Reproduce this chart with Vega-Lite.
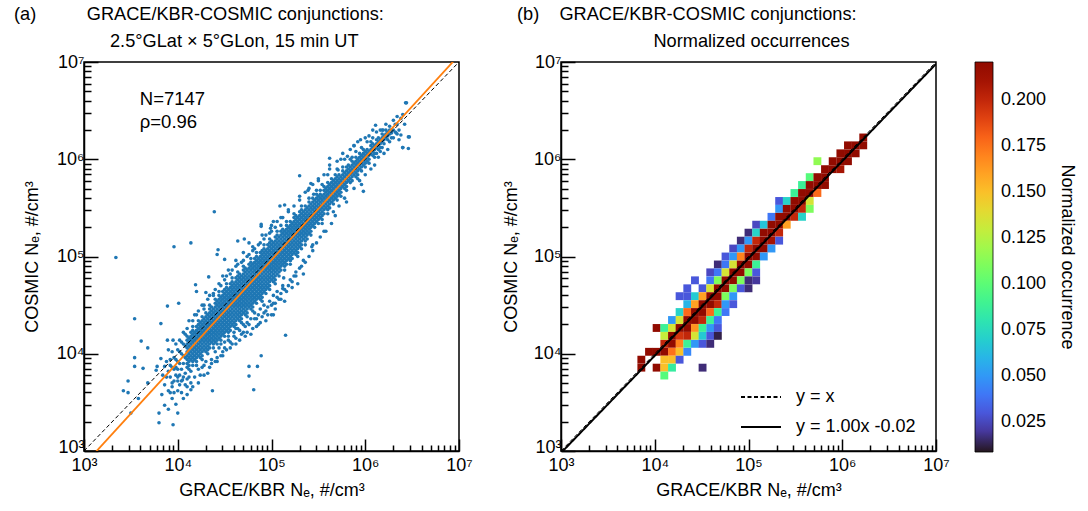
{
"$schema":"https://vega.github.io/schema/vega-lite/v6.json",
"background":"white",
"padding":{"left":13,"top":4,"right":5,"bottom":5},
"spacing":27,
"config":{
"font":"Liberation Sans",
"view":{"stroke":"black","strokeWidth":1.5},
"axis":{"grid":false,"domainColor":"black","domainWidth":1.5,"tickColor":"black","tickWidth":1.5,"labelColor":"black","labelFontSize":18,"titleColor":"black","titleFontSize":18,"titleFontWeight":"normal","labelFlush":false,"labelOverlap":false},
"legend":{"labelColor":"black","titleColor":"black","titleFontWeight":"normal"},
"title":{"fontSize":18.2,"fontWeight":"normal","color":"black"}
},
"datasets":{
"scatter":[
{"x":3.92,"y":3.6},{"x":3.92,"y":3.76},{"x":3.92,"y":3.88},{"x":3.94,"y":3.7},{"x":3.94,"y":3.86},{"x":3.94,"y":4.02},{"x":3.96,"y":3.6},{"x":3.96,"y":3.84},{"x":3.96,"y":3.96},{"x":3.98,"y":3.78},{"x":3.98,"y":3.94},{"x":3.98,"y":4.1},{"x":4,"y":3.72},{"x":4,"y":3.84},{"x":4,"y":3.92},{"x":4,"y":4.04},{"x":4.02,"y":3.78},{"x":4.02,"y":3.9},{"x":4.02,"y":4.02},{"x":4.04,"y":3.72},{"x":4.04,"y":3.84},{"x":4.04,"y":4},{"x":4.04,"y":4.12},{"x":4.06,"y":3.9},{"x":4.06,"y":3.98},{"x":4.06,"y":4.1},{"x":4.08,"y":3.8},{"x":4.08,"y":3.96},{"x":4.08,"y":4.08},{"x":4.08,"y":4.2},
{"x":4.1,"y":3.86},{"x":4.1,"y":3.9},{"x":4.1,"y":3.94},{"x":4.1,"y":3.98},{"x":4.1,"y":4.02},{"x":4.1,"y":4.06},{"x":4.1,"y":4.1},{"x":4.1,"y":4.14},{"x":4.1,"y":4.18},{"x":4.1,"y":3.66},
{"x":4.12,"y":3.84},{"x":4.12,"y":3.88},{"x":4.12,"y":3.92},{"x":4.12,"y":3.96},{"x":4.12,"y":4},{"x":4.12,"y":4.04},{"x":4.12,"y":4.08},{"x":4.12,"y":4.12},{"x":4.12,"y":4.16},{"x":4.12,"y":4.34},
{"x":4.14,"y":3.94},{"x":4.14,"y":3.98},{"x":4.14,"y":4.02},{"x":4.14,"y":4.06},{"x":4.14,"y":4.1},{"x":4.14,"y":4.14},{"x":4.14,"y":4.18},{"x":4.14,"y":4.22},{"x":4.14,"y":3.7},
{"x":4.16,"y":3.88},{"x":4.16,"y":3.92},{"x":4.16,"y":3.96},{"x":4.16,"y":4},{"x":4.16,"y":4.04},{"x":4.16,"y":4.08},{"x":4.16,"y":4.12},{"x":4.16,"y":4.16},{"x":4.16,"y":4.2},{"x":4.16,"y":4.24},{"x":4.16,"y":4.28},
{"x":4.18,"y":3.94},{"x":4.18,"y":3.98},{"x":4.18,"y":4.02},{"x":4.18,"y":4.06},{"x":4.18,"y":4.1},{"x":4.18,"y":4.14},{"x":4.18,"y":4.18},{"x":4.18,"y":4.22},{"x":4.18,"y":3.76},{"x":4.18,"y":4.4},
{"x":4.2,"y":3.88},{"x":4.2,"y":3.92},{"x":4.2,"y":3.96},{"x":4.2,"y":4},{"x":4.2,"y":4.04},{"x":4.2,"y":4.08},{"x":4.2,"y":4.12},{"x":4.2,"y":4.16},{"x":4.2,"y":4.2},{"x":4.2,"y":4.24},{"x":4.2,"y":4.28},
{"x":4.22,"y":3.98},{"x":4.22,"y":4.02},{"x":4.22,"y":4.06},{"x":4.22,"y":4.1},{"x":4.22,"y":4.14},{"x":4.22,"y":4.18},{"x":4.22,"y":4.22},{"x":4.22,"y":4.26},{"x":4.22,"y":4.3},{"x":4.22,"y":4.34},
{"x":4.24,"y":3.96},{"x":4.24,"y":4},{"x":4.24,"y":4.04},{"x":4.24,"y":4.08},{"x":4.24,"y":4.12},{"x":4.24,"y":4.16},{"x":4.24,"y":4.2},{"x":4.24,"y":4.24},{"x":4.24,"y":4.28},{"x":4.24,"y":4.32},{"x":4.24,"y":3.78},
{"x":4.26,"y":3.94},{"x":4.26,"y":3.98},{"x":4.26,"y":4.02},{"x":4.26,"y":4.06},{"x":4.26,"y":4.1},{"x":4.26,"y":4.14},{"x":4.26,"y":4.18},{"x":4.26,"y":4.22},{"x":4.26,"y":4.26},{"x":4.26,"y":4.3},{"x":4.26,"y":4.34},{"x":4.26,"y":4.38},
{"x":4.28,"y":4.04},{"x":4.28,"y":4.08},{"x":4.28,"y":4.12},{"x":4.28,"y":4.16},{"x":4.28,"y":4.2},{"x":4.28,"y":4.24},{"x":4.28,"y":4.28},{"x":4.28,"y":4.32},{"x":4.28,"y":4.36},{"x":4.28,"y":3.88},{"x":4.28,"y":4.5},
{"x":4.3,"y":4.02},{"x":4.3,"y":4.06},{"x":4.3,"y":4.1},{"x":4.3,"y":4.14},{"x":4.3,"y":4.18},{"x":4.3,"y":4.22},{"x":4.3,"y":4.26},{"x":4.3,"y":4.3},{"x":4.3,"y":4.34},{"x":4.3,"y":4.38},{"x":4.3,"y":4.42},
{"x":4.32,"y":4},{"x":4.32,"y":4.04},{"x":4.32,"y":4.08},{"x":4.32,"y":4.12},{"x":4.32,"y":4.16},{"x":4.32,"y":4.2},{"x":4.32,"y":4.24},{"x":4.32,"y":4.28},{"x":4.32,"y":4.32},{"x":4.32,"y":4.36},{"x":4.32,"y":4.4},
{"x":4.34,"y":4.06},{"x":4.34,"y":4.1},{"x":4.34,"y":4.14},{"x":4.34,"y":4.18},{"x":4.34,"y":4.22},{"x":4.34,"y":4.26},{"x":4.34,"y":4.3},{"x":4.34,"y":4.34},{"x":4.34,"y":4.38},{"x":4.34,"y":4.42},{"x":4.34,"y":4.46},{"x":4.34,"y":4.5},
{"x":4.36,"y":4.12},{"x":4.36,"y":4.16},{"x":4.36,"y":4.2},{"x":4.36,"y":4.24},{"x":4.36,"y":4.28},{"x":4.36,"y":4.32},{"x":4.36,"y":4.36},{"x":4.36,"y":4.4},{"x":4.36,"y":4.44},{"x":4.36,"y":4.48},{"x":4.36,"y":3.94},
{"x":4.38,"y":4.06},{"x":4.38,"y":4.1},{"x":4.38,"y":4.14},{"x":4.38,"y":4.18},{"x":4.38,"y":4.22},{"x":4.38,"y":4.26},{"x":4.38,"y":4.3},{"x":4.38,"y":4.34},{"x":4.38,"y":4.38},{"x":4.38,"y":4.42},{"x":4.38,"y":4.46},{"x":4.38,"y":4.62},
{"x":4.4,"y":4.12},{"x":4.4,"y":4.16},{"x":4.4,"y":4.2},{"x":4.4,"y":4.24},{"x":4.4,"y":4.28},{"x":4.4,"y":4.32},{"x":4.4,"y":4.36},{"x":4.4,"y":4.4},{"x":4.4,"y":4.44},{"x":4.4,"y":4.48},{"x":4.4,"y":4.52},{"x":4.4,"y":4.56},
{"x":4.42,"y":4.1},{"x":4.42,"y":4.14},{"x":4.42,"y":4.18},{"x":4.42,"y":4.22},{"x":4.42,"y":4.26},{"x":4.42,"y":4.3},{"x":4.42,"y":4.34},{"x":4.42,"y":4.38},{"x":4.42,"y":4.42},{"x":4.42,"y":4.46},{"x":4.42,"y":4.5},{"x":4.42,"y":4.54},{"x":4.42,"y":3.92},
{"x":4.44,"y":4.16},{"x":4.44,"y":4.2},{"x":4.44,"y":4.24},{"x":4.44,"y":4.28},{"x":4.44,"y":4.32},{"x":4.44,"y":4.36},{"x":4.44,"y":4.4},{"x":4.44,"y":4.44},{"x":4.44,"y":4.48},{"x":4.44,"y":4.52},{"x":4.44,"y":4.56},{"x":4.44,"y":4.6},{"x":4.44,"y":4.64},
{"x":4.46,"y":4.1},{"x":4.46,"y":4.14},{"x":4.46,"y":4.18},{"x":4.46,"y":4.22},{"x":4.46,"y":4.26},{"x":4.46,"y":4.3},{"x":4.46,"y":4.34},{"x":4.46,"y":4.38},{"x":4.46,"y":4.42},{"x":4.46,"y":4.46},{"x":4.46,"y":4.5},{"x":4.46,"y":4.54},{"x":4.46,"y":4.58},
{"x":4.48,"y":4.2},{"x":4.48,"y":4.24},{"x":4.48,"y":4.28},{"x":4.48,"y":4.32},{"x":4.48,"y":4.36},{"x":4.48,"y":4.4},{"x":4.48,"y":4.44},{"x":4.48,"y":4.48},{"x":4.48,"y":4.52},{"x":4.48,"y":4.56},{"x":4.48,"y":4.6},{"x":4.48,"y":4.64},{"x":4.48,"y":4.02},{"x":4.48,"y":4.8},
{"x":4.5,"y":4.18},{"x":4.5,"y":4.22},{"x":4.5,"y":4.26},{"x":4.5,"y":4.3},{"x":4.5,"y":4.34},{"x":4.5,"y":4.38},{"x":4.5,"y":4.42},{"x":4.5,"y":4.46},{"x":4.5,"y":4.5},{"x":4.5,"y":4.54},{"x":4.5,"y":4.58},{"x":4.5,"y":4.62},{"x":4.5,"y":4.66},
{"x":4.52,"y":4.24},{"x":4.52,"y":4.28},{"x":4.52,"y":4.32},{"x":4.52,"y":4.36},{"x":4.52,"y":4.4},{"x":4.52,"y":4.44},{"x":4.52,"y":4.48},{"x":4.52,"y":4.52},{"x":4.52,"y":4.56},{"x":4.52,"y":4.6},{"x":4.52,"y":4.64},{"x":4.52,"y":4.68},{"x":4.52,"y":4.72},
{"x":4.54,"y":4.18},{"x":4.54,"y":4.22},{"x":4.54,"y":4.26},{"x":4.54,"y":4.3},{"x":4.54,"y":4.34},{"x":4.54,"y":4.38},{"x":4.54,"y":4.42},{"x":4.54,"y":4.46},{"x":4.54,"y":4.5},{"x":4.54,"y":4.54},{"x":4.54,"y":4.58},{"x":4.54,"y":4.62},{"x":4.54,"y":4.66},{"x":4.54,"y":4.86},
{"x":4.56,"y":4.24},{"x":4.56,"y":4.28},{"x":4.56,"y":4.32},{"x":4.56,"y":4.36},{"x":4.56,"y":4.4},{"x":4.56,"y":4.44},{"x":4.56,"y":4.48},{"x":4.56,"y":4.52},{"x":4.56,"y":4.56},{"x":4.56,"y":4.6},{"x":4.56,"y":4.64},{"x":4.56,"y":4.68},{"x":4.56,"y":4.72},{"x":4.56,"y":4.06},
{"x":4.58,"y":4.3},{"x":4.58,"y":4.34},{"x":4.58,"y":4.38},{"x":4.58,"y":4.42},{"x":4.58,"y":4.46},{"x":4.58,"y":4.5},{"x":4.58,"y":4.54},{"x":4.58,"y":4.58},{"x":4.58,"y":4.62},{"x":4.58,"y":4.66},{"x":4.58,"y":4.7},{"x":4.58,"y":4.74},{"x":4.58,"y":4.78},
{"x":4.6,"y":4.28},{"x":4.6,"y":4.32},{"x":4.6,"y":4.36},{"x":4.6,"y":4.4},{"x":4.6,"y":4.44},{"x":4.6,"y":4.48},{"x":4.6,"y":4.52},{"x":4.6,"y":4.56},{"x":4.6,"y":4.6},{"x":4.6,"y":4.64},{"x":4.6,"y":4.68},{"x":4.6,"y":4.72},
{"x":4.62,"y":4.26},{"x":4.62,"y":4.3},{"x":4.62,"y":4.34},{"x":4.62,"y":4.38},{"x":4.62,"y":4.42},{"x":4.62,"y":4.46},{"x":4.62,"y":4.5},{"x":4.62,"y":4.54},{"x":4.62,"y":4.58},{"x":4.62,"y":4.62},{"x":4.62,"y":4.66},{"x":4.62,"y":4.7},{"x":4.62,"y":4.74},{"x":4.62,"y":4.78},{"x":4.62,"y":4.96},
{"x":4.64,"y":4.36},{"x":4.64,"y":4.4},{"x":4.64,"y":4.44},{"x":4.64,"y":4.48},{"x":4.64,"y":4.52},{"x":4.64,"y":4.56},{"x":4.64,"y":4.6},{"x":4.64,"y":4.64},{"x":4.64,"y":4.68},{"x":4.64,"y":4.72},{"x":4.64,"y":4.76},{"x":4.64,"y":4.8},{"x":4.64,"y":4.84},
{"x":4.66,"y":4.34},{"x":4.66,"y":4.38},{"x":4.66,"y":4.42},{"x":4.66,"y":4.46},{"x":4.66,"y":4.5},{"x":4.66,"y":4.54},{"x":4.66,"y":4.58},{"x":4.66,"y":4.62},{"x":4.66,"y":4.66},{"x":4.66,"y":4.7},{"x":4.66,"y":4.74},{"x":4.66,"y":4.78},{"x":4.66,"y":4.82},{"x":4.66,"y":4.14},
{"x":4.68,"y":4.32},{"x":4.68,"y":4.36},{"x":4.68,"y":4.4},{"x":4.68,"y":4.44},{"x":4.68,"y":4.48},{"x":4.68,"y":4.52},{"x":4.68,"y":4.56},{"x":4.68,"y":4.6},{"x":4.68,"y":4.64},{"x":4.68,"y":4.68},{"x":4.68,"y":4.72},{"x":4.68,"y":4.76},{"x":4.68,"y":4.8},
{"x":4.7,"y":4.42},{"x":4.7,"y":4.46},{"x":4.7,"y":4.5},{"x":4.7,"y":4.54},{"x":4.7,"y":4.58},{"x":4.7,"y":4.62},{"x":4.7,"y":4.66},{"x":4.7,"y":4.7},{"x":4.7,"y":4.74},{"x":4.7,"y":4.78},{"x":4.7,"y":4.82},{"x":4.7,"y":4.86},{"x":4.7,"y":4.9},{"x":4.7,"y":5.04},
{"x":4.72,"y":4.4},{"x":4.72,"y":4.44},{"x":4.72,"y":4.48},{"x":4.72,"y":4.52},{"x":4.72,"y":4.56},{"x":4.72,"y":4.6},{"x":4.72,"y":4.64},{"x":4.72,"y":4.68},{"x":4.72,"y":4.72},{"x":4.72,"y":4.76},{"x":4.72,"y":4.8},{"x":4.72,"y":4.84},{"x":4.72,"y":4.88},
{"x":4.74,"y":4.38},{"x":4.74,"y":4.42},{"x":4.74,"y":4.46},{"x":4.74,"y":4.5},{"x":4.74,"y":4.54},{"x":4.74,"y":4.58},{"x":4.74,"y":4.62},{"x":4.74,"y":4.66},{"x":4.74,"y":4.7},{"x":4.74,"y":4.74},{"x":4.74,"y":4.78},{"x":4.74,"y":4.82},{"x":4.74,"y":4.86},{"x":4.74,"y":4.22},
{"x":4.76,"y":4.48},{"x":4.76,"y":4.52},{"x":4.76,"y":4.56},{"x":4.76,"y":4.6},{"x":4.76,"y":4.64},{"x":4.76,"y":4.68},{"x":4.76,"y":4.72},{"x":4.76,"y":4.76},{"x":4.76,"y":4.8},{"x":4.76,"y":4.84},{"x":4.76,"y":4.88},{"x":4.76,"y":4.92},
{"x":4.78,"y":4.46},{"x":4.78,"y":4.5},{"x":4.78,"y":4.54},{"x":4.78,"y":4.58},{"x":4.78,"y":4.62},{"x":4.78,"y":4.66},{"x":4.78,"y":4.7},{"x":4.78,"y":4.74},{"x":4.78,"y":4.78},{"x":4.78,"y":4.82},{"x":4.78,"y":4.86},{"x":4.78,"y":4.9},{"x":4.78,"y":4.94},{"x":4.78,"y":4.98},
{"x":4.8,"y":4.44},{"x":4.8,"y":4.48},{"x":4.8,"y":4.52},{"x":4.8,"y":4.56},{"x":4.8,"y":4.6},{"x":4.8,"y":4.64},{"x":4.8,"y":4.68},{"x":4.8,"y":4.72},{"x":4.8,"y":4.76},{"x":4.8,"y":4.8},{"x":4.8,"y":4.84},{"x":4.8,"y":4.88},{"x":4.8,"y":4.92},{"x":4.8,"y":5.1},
{"x":4.82,"y":4.54},{"x":4.82,"y":4.58},{"x":4.82,"y":4.62},{"x":4.82,"y":4.66},{"x":4.82,"y":4.7},{"x":4.82,"y":4.74},{"x":4.82,"y":4.78},{"x":4.82,"y":4.82},{"x":4.82,"y":4.86},{"x":4.82,"y":4.9},{"x":4.82,"y":4.94},{"x":4.82,"y":4.98},
{"x":4.84,"y":4.52},{"x":4.84,"y":4.56},{"x":4.84,"y":4.6},{"x":4.84,"y":4.64},{"x":4.84,"y":4.68},{"x":4.84,"y":4.72},{"x":4.84,"y":4.76},{"x":4.84,"y":4.8},{"x":4.84,"y":4.84},{"x":4.84,"y":4.88},{"x":4.84,"y":4.92},{"x":4.84,"y":4.96},{"x":4.84,"y":5},{"x":4.84,"y":5.04},{"x":4.84,"y":4.36},
{"x":4.86,"y":4.58},{"x":4.86,"y":4.62},{"x":4.86,"y":4.66},{"x":4.86,"y":4.7},{"x":4.86,"y":4.74},{"x":4.86,"y":4.78},{"x":4.86,"y":4.82},{"x":4.86,"y":4.86},{"x":4.86,"y":4.9},{"x":4.86,"y":4.94},{"x":4.86,"y":4.98},
{"x":4.88,"y":4.56},{"x":4.88,"y":4.6},{"x":4.88,"y":4.64},{"x":4.88,"y":4.68},{"x":4.88,"y":4.72},{"x":4.88,"y":4.76},{"x":4.88,"y":4.8},{"x":4.88,"y":4.84},{"x":4.88,"y":4.88},{"x":4.88,"y":4.92},{"x":4.88,"y":4.96},{"x":4.88,"y":5},{"x":4.88,"y":5.04},
{"x":4.9,"y":4.54},{"x":4.9,"y":4.58},{"x":4.9,"y":4.62},{"x":4.9,"y":4.66},{"x":4.9,"y":4.7},{"x":4.9,"y":4.74},{"x":4.9,"y":4.78},{"x":4.9,"y":4.82},{"x":4.9,"y":4.86},{"x":4.9,"y":4.9},{"x":4.9,"y":4.94},{"x":4.9,"y":4.98},{"x":4.9,"y":5.02},{"x":4.9,"y":5.06},{"x":4.9,"y":5.22},
{"x":4.92,"y":4.64},{"x":4.92,"y":4.68},{"x":4.92,"y":4.72},{"x":4.92,"y":4.76},{"x":4.92,"y":4.8},{"x":4.92,"y":4.84},{"x":4.92,"y":4.88},{"x":4.92,"y":4.92},{"x":4.92,"y":4.96},{"x":4.92,"y":5},{"x":4.92,"y":5.04},{"x":4.92,"y":5.08},{"x":4.92,"y":5.12},
{"x":4.94,"y":4.62},{"x":4.94,"y":4.66},{"x":4.94,"y":4.7},{"x":4.94,"y":4.74},{"x":4.94,"y":4.78},{"x":4.94,"y":4.82},{"x":4.94,"y":4.86},{"x":4.94,"y":4.9},{"x":4.94,"y":4.94},{"x":4.94,"y":4.98},{"x":4.94,"y":5.02},{"x":4.94,"y":5.06},{"x":4.94,"y":4.44},
{"x":4.96,"y":4.68},{"x":4.96,"y":4.72},{"x":4.96,"y":4.76},{"x":4.96,"y":4.8},{"x":4.96,"y":4.84},{"x":4.96,"y":4.88},{"x":4.96,"y":4.92},{"x":4.96,"y":4.96},{"x":4.96,"y":5},{"x":4.96,"y":5.04},{"x":4.96,"y":5.08},{"x":4.96,"y":5.12},
{"x":4.98,"y":4.66},{"x":4.98,"y":4.7},{"x":4.98,"y":4.74},{"x":4.98,"y":4.78},{"x":4.98,"y":4.82},{"x":4.98,"y":4.86},{"x":4.98,"y":4.9},{"x":4.98,"y":4.94},{"x":4.98,"y":4.98},{"x":4.98,"y":5.02},{"x":4.98,"y":5.06},{"x":4.98,"y":5.1},{"x":4.98,"y":5.14},{"x":4.98,"y":5.18},
{"x":5,"y":4.76},{"x":5,"y":4.8},{"x":5,"y":4.84},{"x":5,"y":4.88},{"x":5,"y":4.92},{"x":5,"y":4.96},{"x":5,"y":5},{"x":5,"y":5.04},{"x":5,"y":5.08},{"x":5,"y":5.12},{"x":5,"y":5.16},{"x":5,"y":4.5},{"x":5,"y":5.32},
{"x":5.02,"y":4.74},{"x":5.02,"y":4.78},{"x":5.02,"y":4.82},{"x":5.02,"y":4.86},{"x":5.02,"y":4.9},{"x":5.02,"y":4.94},{"x":5.02,"y":4.98},{"x":5.02,"y":5.02},{"x":5.02,"y":5.06},{"x":5.02,"y":5.1},{"x":5.02,"y":5.14},
{"x":5.04,"y":4.72},{"x":5.04,"y":4.76},{"x":5.04,"y":4.8},{"x":5.04,"y":4.84},{"x":5.04,"y":4.88},{"x":5.04,"y":4.92},{"x":5.04,"y":4.96},{"x":5.04,"y":5},{"x":5.04,"y":5.04},{"x":5.04,"y":5.08},{"x":5.04,"y":5.12},{"x":5.04,"y":5.16},{"x":5.04,"y":5.2},
{"x":5.06,"y":4.82},{"x":5.06,"y":4.86},{"x":5.06,"y":4.9},{"x":5.06,"y":4.94},{"x":5.06,"y":4.98},{"x":5.06,"y":5.02},{"x":5.06,"y":5.06},{"x":5.06,"y":5.1},{"x":5.06,"y":5.14},{"x":5.06,"y":5.18},{"x":5.06,"y":5.22},{"x":5.06,"y":5.26},{"x":5.06,"y":4.58},
{"x":5.08,"y":4.8},{"x":5.08,"y":4.84},{"x":5.08,"y":4.88},{"x":5.08,"y":4.92},{"x":5.08,"y":4.96},{"x":5.08,"y":5},{"x":5.08,"y":5.04},{"x":5.08,"y":5.08},{"x":5.08,"y":5.12},{"x":5.08,"y":5.16},{"x":5.08,"y":5.2},
{"x":5.1,"y":4.86},{"x":5.1,"y":4.9},{"x":5.1,"y":4.94},{"x":5.1,"y":4.98},{"x":5.1,"y":5.02},{"x":5.1,"y":5.06},{"x":5.1,"y":5.1},{"x":5.1,"y":5.14},{"x":5.1,"y":5.18},{"x":5.1,"y":5.22},{"x":5.1,"y":5.26},{"x":5.1,"y":5.4},
{"x":5.12,"y":4.92},{"x":5.12,"y":4.96},{"x":5.12,"y":5},{"x":5.12,"y":5.04},{"x":5.12,"y":5.08},{"x":5.12,"y":5.12},{"x":5.12,"y":5.16},{"x":5.12,"y":5.2},{"x":5.12,"y":5.24},{"x":5.12,"y":5.28},
{"x":5.14,"y":4.86},{"x":5.14,"y":4.9},{"x":5.14,"y":4.94},{"x":5.14,"y":4.98},{"x":5.14,"y":5.02},{"x":5.14,"y":5.06},{"x":5.14,"y":5.1},{"x":5.14,"y":5.14},{"x":5.14,"y":5.18},{"x":5.14,"y":5.22},{"x":5.14,"y":5.26},{"x":5.14,"y":4.66},
{"x":5.16,"y":4.92},{"x":5.16,"y":4.96},{"x":5.16,"y":5},{"x":5.16,"y":5.04},{"x":5.16,"y":5.08},{"x":5.16,"y":5.12},{"x":5.16,"y":5.16},{"x":5.16,"y":5.2},{"x":5.16,"y":5.24},{"x":5.16,"y":5.28},{"x":5.16,"y":5.32},{"x":5.16,"y":5.36},
{"x":5.18,"y":4.98},{"x":5.18,"y":5.02},{"x":5.18,"y":5.06},{"x":5.18,"y":5.1},{"x":5.18,"y":5.14},{"x":5.18,"y":5.18},{"x":5.18,"y":5.22},{"x":5.18,"y":5.26},{"x":5.18,"y":5.3},{"x":5.18,"y":5.46},
{"x":5.2,"y":4.92},{"x":5.2,"y":4.96},{"x":5.2,"y":5},{"x":5.2,"y":5.04},{"x":5.2,"y":5.08},{"x":5.2,"y":5.12},{"x":5.2,"y":5.16},{"x":5.2,"y":5.2},{"x":5.2,"y":5.24},{"x":5.2,"y":5.28},{"x":5.2,"y":5.32},{"x":5.2,"y":5.36},
{"x":5.22,"y":4.98},{"x":5.22,"y":5.02},{"x":5.22,"y":5.06},{"x":5.22,"y":5.1},{"x":5.22,"y":5.14},{"x":5.22,"y":5.18},{"x":5.22,"y":5.22},{"x":5.22,"y":5.26},{"x":5.22,"y":5.3},{"x":5.22,"y":5.34},
{"x":5.24,"y":5.04},{"x":5.24,"y":5.08},{"x":5.24,"y":5.12},{"x":5.24,"y":5.16},{"x":5.24,"y":5.2},{"x":5.24,"y":5.24},{"x":5.24,"y":5.28},{"x":5.24,"y":5.32},{"x":5.24,"y":5.36},{"x":5.24,"y":5.4},{"x":5.24,"y":5.44},{"x":5.24,"y":4.8},
{"x":5.26,"y":5.02},{"x":5.26,"y":5.06},{"x":5.26,"y":5.1},{"x":5.26,"y":5.14},{"x":5.26,"y":5.18},{"x":5.26,"y":5.22},{"x":5.26,"y":5.26},{"x":5.26,"y":5.3},{"x":5.26,"y":5.34},{"x":5.26,"y":5.38},{"x":5.26,"y":5.42},
{"x":5.28,"y":5},{"x":5.28,"y":5.04},{"x":5.28,"y":5.08},{"x":5.28,"y":5.12},{"x":5.28,"y":5.16},{"x":5.28,"y":5.2},{"x":5.28,"y":5.24},{"x":5.28,"y":5.28},{"x":5.28,"y":5.32},{"x":5.28,"y":5.36},{"x":5.28,"y":5.4},
{"x":5.3,"y":5.1},{"x":5.3,"y":5.14},{"x":5.3,"y":5.18},{"x":5.3,"y":5.22},{"x":5.3,"y":5.26},{"x":5.3,"y":5.3},{"x":5.3,"y":5.34},{"x":5.3,"y":5.38},{"x":5.3,"y":5.42},{"x":5.3,"y":5.46},{"x":5.3,"y":5.62},
{"x":5.32,"y":5.08},{"x":5.32,"y":5.12},{"x":5.32,"y":5.16},{"x":5.32,"y":5.2},{"x":5.32,"y":5.24},{"x":5.32,"y":5.28},{"x":5.32,"y":5.32},{"x":5.32,"y":5.36},{"x":5.32,"y":5.4},{"x":5.32,"y":5.44},{"x":5.32,"y":5.48},{"x":5.32,"y":5.52},
{"x":5.34,"y":5.18},{"x":5.34,"y":5.22},{"x":5.34,"y":5.26},{"x":5.34,"y":5.3},{"x":5.34,"y":5.34},{"x":5.34,"y":5.38},{"x":5.34,"y":5.42},{"x":5.34,"y":5.46},{"x":5.34,"y":4.96},
{"x":5.36,"y":5.12},{"x":5.36,"y":5.16},{"x":5.36,"y":5.2},{"x":5.36,"y":5.24},{"x":5.36,"y":5.28},{"x":5.36,"y":5.32},{"x":5.36,"y":5.36},{"x":5.36,"y":5.4},{"x":5.36,"y":5.44},{"x":5.36,"y":5.48},{"x":5.36,"y":5.52},
{"x":5.38,"y":5.18},{"x":5.38,"y":5.22},{"x":5.38,"y":5.26},{"x":5.38,"y":5.3},{"x":5.38,"y":5.34},{"x":5.38,"y":5.38},{"x":5.38,"y":5.42},{"x":5.38,"y":5.46},{"x":5.38,"y":5.5},
{"x":5.4,"y":5.24},{"x":5.4,"y":5.28},{"x":5.4,"y":5.32},{"x":5.4,"y":5.36},{"x":5.4,"y":5.4},{"x":5.4,"y":5.44},{"x":5.4,"y":5.48},{"x":5.4,"y":5.52},{"x":5.4,"y":5.56},{"x":5.4,"y":5.6},{"x":5.4,"y":5.7},
{"x":5.42,"y":5.22},{"x":5.42,"y":5.26},{"x":5.42,"y":5.3},{"x":5.42,"y":5.34},{"x":5.42,"y":5.38},{"x":5.42,"y":5.42},{"x":5.42,"y":5.46},{"x":5.42,"y":5.5},{"x":5.42,"y":5.54},
{"x":5.44,"y":5.32},{"x":5.44,"y":5.36},{"x":5.44,"y":5.4},{"x":5.44,"y":5.44},{"x":5.44,"y":5.48},{"x":5.44,"y":5.52},{"x":5.44,"y":5.56},{"x":5.44,"y":5.6},{"x":5.44,"y":5.12},
{"x":5.46,"y":5.3},{"x":5.46,"y":5.34},{"x":5.46,"y":5.38},{"x":5.46,"y":5.42},{"x":5.46,"y":5.46},{"x":5.46,"y":5.5},{"x":5.46,"y":5.54},{"x":5.46,"y":5.58},
{"x":5.48,"y":5.36},{"x":5.48,"y":5.4},{"x":5.48,"y":5.44},{"x":5.48,"y":5.48},{"x":5.48,"y":5.52},{"x":5.48,"y":5.56},{"x":5.48,"y":5.6},{"x":5.48,"y":5.64},{"x":5.48,"y":5.68},
{"x":5.5,"y":5.34},{"x":5.5,"y":5.38},{"x":5.5,"y":5.42},{"x":5.5,"y":5.46},{"x":5.5,"y":5.5},{"x":5.5,"y":5.54},{"x":5.5,"y":5.58},{"x":5.5,"y":5.62},{"x":5.5,"y":5.8},
{"x":5.52,"y":5.4},{"x":5.52,"y":5.44},{"x":5.52,"y":5.48},{"x":5.52,"y":5.52},{"x":5.52,"y":5.56},{"x":5.52,"y":5.6},{"x":5.52,"y":5.64},{"x":5.52,"y":5.68},
{"x":5.54,"y":5.34},{"x":5.54,"y":5.38},{"x":5.54,"y":5.42},{"x":5.54,"y":5.46},{"x":5.54,"y":5.5},{"x":5.54,"y":5.54},{"x":5.54,"y":5.58},{"x":5.54,"y":5.62},
{"x":5.56,"y":5.44},{"x":5.56,"y":5.48},{"x":5.56,"y":5.52},{"x":5.56,"y":5.56},{"x":5.56,"y":5.6},{"x":5.56,"y":5.64},{"x":5.56,"y":5.68},{"x":5.56,"y":5.72},{"x":5.56,"y":5.26},
{"x":5.58,"y":5.5},{"x":5.58,"y":5.54},{"x":5.58,"y":5.58},{"x":5.58,"y":5.62},{"x":5.58,"y":5.66},{"x":5.58,"y":5.7},
{"x":5.6,"y":5.44},{"x":5.6,"y":5.48},{"x":5.6,"y":5.52},{"x":5.6,"y":5.56},{"x":5.6,"y":5.6},{"x":5.6,"y":5.64},{"x":5.6,"y":5.68},{"x":5.6,"y":5.72},{"x":5.6,"y":5.76},
{"x":5.62,"y":5.5},{"x":5.62,"y":5.54},{"x":5.62,"y":5.58},{"x":5.62,"y":5.62},{"x":5.62,"y":5.66},{"x":5.62,"y":5.7},{"x":5.62,"y":5.74},{"x":5.62,"y":5.9},
{"x":5.64,"y":5.56},{"x":5.64,"y":5.6},{"x":5.64,"y":5.64},{"x":5.64,"y":5.68},{"x":5.64,"y":5.72},{"x":5.64,"y":5.76},{"x":5.64,"y":5.8},
{"x":5.66,"y":5.54},{"x":5.66,"y":5.58},{"x":5.66,"y":5.62},{"x":5.66,"y":5.66},{"x":5.66,"y":5.7},{"x":5.66,"y":5.74},{"x":5.66,"y":5.78},
{"x":5.68,"y":5.6},{"x":5.68,"y":5.64},{"x":5.68,"y":5.68},{"x":5.68,"y":5.72},{"x":5.68,"y":5.76},{"x":5.68,"y":5.8},{"x":5.68,"y":5.84},{"x":5.68,"y":5.42},
{"x":5.7,"y":5.58},{"x":5.7,"y":5.62},{"x":5.7,"y":5.66},{"x":5.7,"y":5.7},{"x":5.7,"y":5.74},{"x":5.7,"y":5.78},{"x":5.7,"y":5.82},
{"x":5.72,"y":5.64},{"x":5.72,"y":5.68},{"x":5.72,"y":5.72},{"x":5.72,"y":5.76},{"x":5.72,"y":5.8},{"x":5.72,"y":5.84},
{"x":5.74,"y":5.62},{"x":5.74,"y":5.66},{"x":5.74,"y":5.7},{"x":5.74,"y":5.74},{"x":5.74,"y":5.78},{"x":5.74,"y":5.82},{"x":5.74,"y":6},
{"x":5.76,"y":5.72},{"x":5.76,"y":5.76},{"x":5.76,"y":5.8},{"x":5.76,"y":5.84},{"x":5.76,"y":5.88},{"x":5.76,"y":5.92},
{"x":5.78,"y":5.7},{"x":5.78,"y":5.74},{"x":5.78,"y":5.78},{"x":5.78,"y":5.82},{"x":5.78,"y":5.86},
{"x":5.8,"y":5.68},{"x":5.8,"y":5.72},{"x":5.8,"y":5.76},{"x":5.8,"y":5.8},{"x":5.8,"y":5.84},{"x":5.8,"y":5.88},{"x":5.8,"y":5.92},{"x":5.8,"y":5.56},
{"x":5.82,"y":5.78},{"x":5.82,"y":5.82},{"x":5.82,"y":5.86},{"x":5.82,"y":5.9},{"x":5.82,"y":5.94},
{"x":5.84,"y":5.76},{"x":5.84,"y":5.8},{"x":5.84,"y":5.84},{"x":5.84,"y":5.88},{"x":5.84,"y":5.92},
{"x":5.86,"y":5.78},{"x":5.86,"y":5.82},{"x":5.86,"y":5.86},{"x":5.86,"y":5.9},{"x":5.86,"y":5.94},{"x":5.86,"y":5.98},{"x":5.86,"y":6.02},
{"x":5.88,"y":5.84},{"x":5.88,"y":5.88},{"x":5.88,"y":5.92},{"x":5.88,"y":5.96},{"x":5.88,"y":6.14},
{"x":5.9,"y":5.82},{"x":5.9,"y":5.86},{"x":5.9,"y":5.9},{"x":5.9,"y":5.94},{"x":5.9,"y":5.98},{"x":5.9,"y":6.02},
{"x":5.92,"y":5.8},{"x":5.92,"y":5.84},{"x":5.92,"y":5.88},{"x":5.92,"y":5.92},{"x":5.92,"y":5.96},{"x":5.92,"y":6},
{"x":5.94,"y":5.9},{"x":5.94,"y":5.94},{"x":5.94,"y":5.98},{"x":5.94,"y":6.02},{"x":5.94,"y":6.06},
{"x":5.96,"y":5.88},{"x":5.96,"y":5.92},{"x":5.96,"y":5.96},{"x":5.96,"y":6},{"x":5.96,"y":6.04},{"x":5.96,"y":5.74},
{"x":5.98,"y":5.94},{"x":5.98,"y":5.98},{"x":5.98,"y":6.02},{"x":5.98,"y":6.06},{"x":5.98,"y":6.1},
{"x":6,"y":5.92},{"x":6,"y":5.96},{"x":6,"y":6},{"x":6,"y":6.04},{"x":6,"y":6.08},
{"x":6.02,"y":5.98},{"x":6.02,"y":6.02},{"x":6.02,"y":6.06},{"x":6.02,"y":6.1},
{"x":6.04,"y":5.96},{"x":6.04,"y":6},{"x":6.04,"y":6.04},{"x":6.04,"y":6.08},{"x":6.04,"y":6.24},
{"x":6.06,"y":6.06},{"x":6.06,"y":6.1},{"x":6.06,"y":6.14},{"x":6.06,"y":6.18},
{"x":6.08,"y":6.04},{"x":6.08,"y":6.08},{"x":6.08,"y":6.12},{"x":6.08,"y":6.16},
{"x":6.1,"y":6.02},{"x":6.1,"y":6.06},{"x":6.1,"y":6.1},{"x":6.1,"y":6.14},
{"x":6.12,"y":6.12},{"x":6.12,"y":6.16},{"x":6.12,"y":6.2},
{"x":6.14,"y":6.1},{"x":6.14,"y":6.14},{"x":6.14,"y":6.18},{"x":6.14,"y":6.22},
{"x":6.16,"y":6.08},{"x":6.16,"y":6.12},{"x":6.16,"y":6.16},{"x":6.16,"y":6.2},
{"x":6.18,"y":6.18},{"x":6.18,"y":6.22},{"x":6.18,"y":6.26},{"x":6.18,"y":6.3},
{"x":6.2,"y":6.16},{"x":6.2,"y":6.2},{"x":6.2,"y":6.24},
{"x":6.22,"y":6.22},{"x":6.22,"y":6.26},{"x":6.22,"y":6.3},
{"x":6.24,"y":6.2},{"x":6.24,"y":6.24},{"x":6.24,"y":6.28},
{"x":6.26,"y":6.26},{"x":6.26,"y":6.34},{"x":6.28,"y":6.22},{"x":6.28,"y":6.3},{"x":6.3,"y":6.3},{"x":6.3,"y":6.4},{"x":6.32,"y":6.28},{"x":6.34,"y":6.36},{"x":6.34,"y":6.44},{"x":6.36,"y":6.3},{"x":6.38,"y":6.42},{"x":6.38,"y":6.25},{"x":6.4,"y":6.12},{"x":6.4,"y":6.46},{"x":6.42,"y":6.36},{"x":6.44,"y":6.58},{"x":6.46,"y":6.11},{"x":6.46,"y":6.23},
{"x":3.34,"y":4.99},{"x":3.54,"y":4.36},{"x":3.42,"y":3.62},{"x":3.47,"y":3.6},{"x":3.47,"y":3.72},{"x":3.54,"y":3.96},{"x":3.54,"y":3.87},{"x":3.61,"y":4.13},{"x":3.63,"y":3.85},{"x":3.68,"y":4.06},{"x":3.68,"y":3.7},{"x":3.58,"y":3.54},{"x":3.5,"y":3.39},{"x":3.82,"y":4.31},{"x":3.89,"y":4.49},{"x":4.01,"y":4.52},{"x":3.8,"y":3.39},{"x":3.8,"y":3.29},{"x":3.86,"y":3.47},{"x":3.9,"y":3.43},{"x":3.95,"y":3.27},{"x":3.98,"y":3.48},{"x":4,"y":3.39},{"x":3.83,"y":3.58},{"x":3.94,"y":3.66},{"x":3.82,"y":3.95},{"x":3.77,"y":3.83},{"x":3.78,"y":3.87},{"x":3.86,"y":3.87},{"x":3.9,"y":3.82},{"x":4,"y":3.76},{"x":4.05,"y":3.73},{"x":4.14,"y":3.63},{"x":4.37,"y":3.62},{"x":4.76,"y":3.87},{"x":4.76,"y":3.77},{"x":4.85,"y":3.87},{"x":4.81,"y":3.63},{"x":4.89,"y":3.98},{"x":5.15,"y":4.19},{"x":5.02,"y":4.4},{"x":5.12,"y":4.67},{"x":5.13,"y":4.78},{"x":5.2,"y":4.96},{"x":5.43,"y":5.1},{"x":3.96,"y":5.1},{"x":4.14,"y":5.14},{"x":4.19,"y":4.71},{"x":4.2,"y":4.64},{"x":4.3,"y":4.63},{"x":4.33,"y":4.79},{"x":4.5,"y":4.97},{"x":4.43,"y":5.07},{"x":4.42,"y":5.02},{"x":3.89,"y":4.14},{"x":3.95,"y":4.14},{"x":4.39,"y":5.46},{"x":4.64,"y":5.16},{"x":4.71,"y":5.18},{"x":4.76,"y":5.14},{"x":4.89,"y":5.31},{"x":4.99,"y":5.29},{"x":5.09,"y":5.52},{"x":5.14,"y":5.53},{"x":5.3,"y":5.83},{"x":5.39,"y":5.68},{"x":5.62,"y":6.01},{"x":5.88,"y":6.14},{"x":5.98,"y":5.67},{"x":6.11,"y":6.35},{"x":6.43,"y":6.58},{"x":6.4,"y":6.12},{"x":6.47,"y":6.23},{"x":6.33,"y":6.27},{"x":6.28,"y":6.27},{"x":6.19,"y":6.3},{"x":5.95,"y":6.2},{"x":5.81,"y":6.03},{"x":5.78,"y":6},{"x":5.71,"y":5.89},{"x":5.42,"y":5.75},{"x":5.45,"y":5.64},{"x":5.02,"y":5.36},{"x":4.89,"y":5.33},
{"x":4.5,"y":4.06},{"x":4.56,"y":4.12},{"x":4.6,"y":4.18},{"x":4.62,"y":4.1},{"x":4.66,"y":4.24},{"x":4.7,"y":4.22},{"x":4.72,"y":4.28},{"x":4.76,"y":4.3},{"x":4.78,"y":4.2},{"x":4.82,"y":4.36},{"x":4.84,"y":4.28},{"x":4.86,"y":4.4},{"x":4.88,"y":4.32},{"x":4.92,"y":4.42},{"x":4.94,"y":4.34},{"x":4.96,"y":4.48},{"x":5,"y":4.4},{"x":5.02,"y":4.52},{"x":5.04,"y":4.46},{"x":5.08,"y":4.56},{"x":5.1,"y":4.62},{"x":5.14,"y":4.54},{"x":5.18,"y":4.7},{"x":5.22,"y":4.74},{"x":5.26,"y":4.84},{"x":5.28,"y":4.72},{"x":5.32,"y":4.9},{"x":5.36,"y":4.94},{"x":5.4,"y":5},{"x":5.44,"y":5.06},{"x":5.48,"y":5.14},{"x":5.52,"y":5.2},{"x":5.58,"y":5.26},{"x":5.64,"y":5.34},{"x":4.46,"y":3.98},{"x":4.4,"y":3.92},{"x":4.34,"y":3.86},{"x":4.28,"y":3.78},{"x":4.22,"y":3.7},{"x":4.16,"y":3.66},{"x":4.1,"y":3.58},{"x":4.06,"y":3.54},
{"x":4.1,"y":4.26},{"x":4.16,"y":4.34},{"x":4.22,"y":4.44},{"x":4.28,"y":4.46},{"x":4.34,"y":4.6},{"x":4.4,"y":4.66},{"x":4.46,"y":4.7},{"x":4.52,"y":4.8},{"x":4.58,"y":4.86},{"x":4.64,"y":4.92},{"x":4.7,"y":4.96},{"x":4.76,"y":5.02},{"x":4.82,"y":5.08},{"x":4.88,"y":5.14},{"x":4.94,"y":5.22},{"x":5,"y":5.26},{"x":5.06,"y":5.36},{"x":5.12,"y":5.4},{"x":5.18,"y":5.48},{"x":5.24,"y":5.52},{"x":5.3,"y":5.58},{"x":5.36,"y":5.66},{"x":5.44,"y":5.74},{"x":5.5,"y":5.78},{"x":5.56,"y":5.84},{"x":5.62,"y":5.94},{"x":5.7,"y":5.98},{"x":5.76,"y":6.06},{"x":5.84,"y":6.1},{"x":5.92,"y":6.18},{"x":6,"y":6.22},{"x":6.08,"y":6.3},
{"x":4.22,"y":3.84},{"x":4.26,"y":3.86},{"x":4.3,"y":3.92},{"x":4.32,"y":3.8},{"x":4.36,"y":3.9},{"x":4.4,"y":4.02},{"x":4.42,"y":3.96},{"x":4.44,"y":4.06},{"x":4.48,"y":3.98},{"x":4.5,"y":4.12},{"x":4.52,"y":4.04},{"x":4.54,"y":4.14},{"x":4.58,"y":4.1},{"x":4.6,"y":4.22},{"x":4.62,"y":4.16},{"x":4.64,"y":4.26},{"x":4.68,"y":4.2},{"x":4.7,"y":4.3},{"x":4.72,"y":4.18},{"x":4.74,"y":4.32},{"x":4.78,"y":4.36},{"x":4.8,"y":4.26},{"x":4.82,"y":4.42},{"x":4.86,"y":4.3},{"x":4.88,"y":4.46},{"x":4.9,"y":4.38},{"x":4.92,"y":4.5},{"x":4.96,"y":4.4},{"x":4.98,"y":4.54},{"x":5.02,"y":4.6},{"x":5.04,"y":4.52},{"x":5.06,"y":4.64},{"x":5.1,"y":4.56},{"x":5.12,"y":4.7},{"x":5.16,"y":4.64},{"x":5.2,"y":4.76},{"x":5.22,"y":4.68},{"x":5.26,"y":4.8},{"x":5.3,"y":4.88},{"x":5.34,"y":4.82},
{"x":3.86,"y":3.68},{"x":3.88,"y":3.76},{"x":3.9,"y":3.62},{"x":3.92,"y":3.94},{"x":3.94,"y":3.54},{"x":3.96,"y":3.72},{"x":3.98,"y":3.86},{"x":4,"y":3.62},{"x":4.02,"y":3.68},{"x":4.04,"y":3.6},{"x":4.06,"y":3.76},{"x":4.08,"y":3.68},{"x":4.1,"y":3.74},{"x":4.12,"y":3.76},{"x":4.14,"y":3.82},{"x":3.88,"y":3.92},{"x":3.84,"y":3.78},{"x":3.9,"y":4.04},{"x":4.02,"y":4.14},{"x":4.06,"y":4.22},
{"x":4.2,"y":4.4},{"x":4.26,"y":4.5},{"x":4.32,"y":4.56},{"x":4.38,"y":4.6},{"x":4.44,"y":4.72},{"x":4.5,"y":4.76},{"x":4.56,"y":4.82},{"x":4.62,"y":4.9},{"x":4.68,"y":4.94},{"x":4.74,"y":5},{"x":4.8,"y":5.06},{"x":4.86,"y":5.12},{"x":4.92,"y":5.18},{"x":4.98,"y":5.24},{"x":5.04,"y":5.3},{"x":5.1,"y":5.32},
{"x":5.84,"y":6},{"x":5.88,"y":5.7},{"x":5.9,"y":6.08},{"x":5.94,"y":5.78},{"x":5.96,"y":6.12},{"x":6,"y":5.84},{"x":6.02,"y":6.18},{"x":6.06,"y":5.9},{"x":6.08,"y":6.22},{"x":6.1,"y":5.94},{"x":6.12,"y":6.28},{"x":6.14,"y":6.02},{"x":6.16,"y":6.3},{"x":6.2,"y":6.06},{"x":6.22,"y":6.36},{"x":6.24,"y":6.1},{"x":6.26,"y":6.18},{"x":6.3,"y":6.22},{"x":6.32,"y":6.36},{"x":6.36,"y":6.2},{"x":6.12,"y":6.06},{"x":6.18,"y":6.12},{"x":6.26,"y":6.3},{"x":6.34,"y":6.26},{"x":5.72,"y":5.52},{"x":5.78,"y":5.6},{"x":5.66,"y":5.46},{"x":5.7,"y":5.9},{"x":5.6,"y":5.84},{"x":5.54,"y":5.74}
],
"cells":[
{"x":6.224,"y":6.224,"v":0.25},
{"x":6.061,"y":6.143,"v":0.25},{"x":6.143,"y":6.143,"v":0.25},{"x":6.224,"y":6.143,"v":0.25},
{"x":5.98,"y":6.061,"v":0.25},{"x":6.061,"y":6.061,"v":0.25},{"x":6.143,"y":6.061,"v":0.25},
{"x":5.735,"y":5.98,"v":0.115},{"x":5.898,"y":5.98,"v":0.25},{"x":5.98,"y":5.98,"v":0.25},{"x":6.061,"y":5.98,"v":0.25},
{"x":5.816,"y":5.898,"v":0.25},{"x":5.898,"y":5.898,"v":0.25},{"x":5.98,"y":5.898,"v":0.21},
{"x":5.653,"y":5.816,"v":0.098},{"x":5.735,"y":5.816,"v":0.25},{"x":5.816,"y":5.816,"v":0.25},
{"x":5.571,"y":5.735,"v":0.088},{"x":5.653,"y":5.735,"v":0.25},{"x":5.735,"y":5.735,"v":0.25},{"x":5.816,"y":5.735,"v":0.25},
{"x":5.49,"y":5.653,"v":0.088},{"x":5.571,"y":5.653,"v":0.25},{"x":5.653,"y":5.653,"v":0.25},{"x":5.735,"y":5.653,"v":0.178},
{"x":5.327,"y":5.571,"v":0.03},{"x":5.408,"y":5.571,"v":0.072},{"x":5.49,"y":5.571,"v":0.25},{"x":5.571,"y":5.571,"v":0.25},{"x":5.653,"y":5.571,"v":0.135},
{"x":5.327,"y":5.49,"v":0.05},{"x":5.408,"y":5.49,"v":0.25},{"x":5.49,"y":5.49,"v":0.25},{"x":5.571,"y":5.49,"v":0.2},{"x":5.653,"y":5.49,"v":0.11},
{"x":5.245,"y":5.408,"v":0.04},{"x":5.327,"y":5.408,"v":0.25},{"x":5.408,"y":5.408,"v":0.25},{"x":5.49,"y":5.408,"v":0.2},{"x":5.571,"y":5.408,"v":0.072},
{"x":5.082,"y":5.327,"v":0.025},{"x":5.163,"y":5.327,"v":0.065},{"x":5.245,"y":5.327,"v":0.25},{"x":5.327,"y":5.327,"v":0.25},{"x":5.408,"y":5.327,"v":0.16},
{"x":5,"y":5.245,"v":0.016},{"x":5.082,"y":5.245,"v":0.072},{"x":5.163,"y":5.245,"v":0.25},{"x":5.245,"y":5.245,"v":0.25},{"x":5.327,"y":5.245,"v":0.2},
{"x":4.918,"y":5.163,"v":0.016},{"x":5,"y":5.163,"v":0.05},{"x":5.082,"y":5.163,"v":0.2},{"x":5.163,"y":5.163,"v":0.25},{"x":5.245,"y":5.163,"v":0.21},{"x":5.327,"y":5.163,"v":0.03},
{"x":4.837,"y":5.082,"v":0.025},{"x":4.918,"y":5.082,"v":0.05},{"x":5,"y":5.082,"v":0.2},{"x":5.082,"y":5.082,"v":0.25},{"x":5.163,"y":5.082,"v":0.25},{"x":5.245,"y":5.082,"v":0.05},
{"x":4.755,"y":5,"v":0.03},{"x":4.837,"y":5,"v":0.05},{"x":4.918,"y":5,"v":0.17},{"x":5,"y":5,"v":0.25},{"x":5.082,"y":5,"v":0.25},{"x":5.163,"y":5,"v":0.05},
{"x":4.673,"y":4.918,"v":0.016},{"x":4.755,"y":4.918,"v":0.04},{"x":4.837,"y":4.918,"v":0.135},{"x":4.918,"y":4.918,"v":0.25},{"x":5,"y":4.918,"v":0.25},{"x":5.082,"y":4.918,"v":0.088},
{"x":4.592,"y":4.837,"v":0.025},{"x":4.673,"y":4.837,"v":0.04},{"x":4.755,"y":4.837,"v":0.135},{"x":4.837,"y":4.837,"v":0.25},{"x":4.918,"y":4.837,"v":0.25},{"x":5,"y":4.837,"v":0.11},{"x":5.082,"y":4.837,"v":0.03},
{"x":4.429,"y":4.755,"v":0.03},{"x":4.592,"y":4.755,"v":0.04},{"x":4.673,"y":4.755,"v":0.11},{"x":4.755,"y":4.755,"v":0.25},{"x":4.837,"y":4.755,"v":0.25},{"x":4.918,"y":4.755,"v":0.11},{"x":5,"y":4.755,"v":0.016},{"x":5.082,"y":4.755,"v":0.02},
{"x":4.347,"y":4.673,"v":0.03},{"x":4.51,"y":4.673,"v":0.03},{"x":4.592,"y":4.673,"v":0.135},{"x":4.673,"y":4.673,"v":0.25},{"x":4.755,"y":4.673,"v":0.25},{"x":4.837,"y":4.673,"v":0.11},{"x":4.918,"y":4.673,"v":0.03},{"x":5,"y":4.673,"v":0.016},
{"x":4.265,"y":4.592,"v":0.03},{"x":4.347,"y":4.592,"v":0.03},{"x":4.429,"y":4.592,"v":0.068},{"x":4.51,"y":4.592,"v":0.16},{"x":4.592,"y":4.592,"v":0.25},{"x":4.673,"y":4.592,"v":0.25},{"x":4.755,"y":4.592,"v":0.11},{"x":4.837,"y":4.592,"v":0.05},
{"x":4.347,"y":4.51,"v":0.06},{"x":4.429,"y":4.51,"v":0.16},{"x":4.51,"y":4.51,"v":0.25},{"x":4.592,"y":4.51,"v":0.25},{"x":4.673,"y":4.51,"v":0.2},{"x":4.755,"y":4.51,"v":0.05},{"x":4.837,"y":4.51,"v":0.03},
{"x":4.265,"y":4.429,"v":0.072},{"x":4.347,"y":4.429,"v":0.178},{"x":4.429,"y":4.429,"v":0.25},{"x":4.51,"y":4.429,"v":0.25},{"x":4.592,"y":4.429,"v":0.178},{"x":4.673,"y":4.429,"v":0.088},{"x":4.755,"y":4.429,"v":0.04},
{"x":4.184,"y":4.347,"v":0.05},{"x":4.265,"y":4.347,"v":0.135},{"x":4.347,"y":4.347,"v":0.25},{"x":4.429,"y":4.347,"v":0.25},{"x":4.51,"y":4.347,"v":0.2},{"x":4.592,"y":4.347,"v":0.088},{"x":4.673,"y":4.347,"v":0.04},
{"x":4.02,"y":4.265,"v":0.25},{"x":4.102,"y":4.265,"v":0.088},{"x":4.184,"y":4.265,"v":0.135},{"x":4.265,"y":4.265,"v":0.25},{"x":4.347,"y":4.265,"v":0.25},{"x":4.429,"y":4.265,"v":0.165},{"x":4.51,"y":4.265,"v":0.088},{"x":4.592,"y":4.265,"v":0.05},{"x":4.673,"y":4.265,"v":0.03},
{"x":4.102,"y":4.184,"v":0.13},{"x":4.184,"y":4.184,"v":0.25},{"x":4.265,"y":4.184,"v":0.195},{"x":4.347,"y":4.184,"v":0.2},{"x":4.429,"y":4.184,"v":0.135},{"x":4.51,"y":4.184,"v":0.068},{"x":4.592,"y":4.184,"v":0.03},{"x":4.673,"y":4.184,"v":0.012},
{"x":4.102,"y":4.102,"v":0.2},{"x":4.184,"y":4.102,"v":0.25},{"x":4.265,"y":4.102,"v":0.17},{"x":4.347,"y":4.102,"v":0.088},{"x":4.429,"y":4.102,"v":0.05},{"x":4.51,"y":4.102,"v":0.03},{"x":4.592,"y":4.102,"v":0.016},
{"x":3.939,"y":4.02,"v":0.25},{"x":4.02,"y":4.02,"v":0.25},{"x":4.102,"y":4.02,"v":0.25},{"x":4.184,"y":4.02,"v":0.175},{"x":4.265,"y":4.02,"v":0.15},{"x":4.347,"y":4.02,"v":0.045},
{"x":3.857,"y":3.939,"v":0.25},{"x":4.102,"y":3.939,"v":0.15},{"x":4.184,"y":3.939,"v":0.15},{"x":4.265,"y":3.939,"v":0.03},
{"x":3.857,"y":3.857,"v":0.25},{"x":4.02,"y":3.857,"v":0.25},{"x":4.102,"y":3.857,"v":0.15},{"x":4.184,"y":3.857,"v":0.085},{"x":4.51,"y":3.857,"v":0.016},
{"x":4.102,"y":3.776,"v":0.098}
],
"diag":[{"x":3,"y":3},{"x":7,"y":7}],
"fitA":[{"x":3,"y":2.858},{"x":7,"y":7.07}],
"linesB":[{"line":"y = x","x":3,"y":3},{"line":"y = x","x":7,"y":7}],
"fitB":[{"line":"y = 1.00x -0.02","x":3,"y":2.98},{"line":"y = 1.00x -0.02","x":7,"y":6.98}],
"notes":[{"label":"N=7147","x":3.595,"y":6.56},{"label":"ρ=0.96","x":3.595,"y":6.325}]
},
"hconcat":[
{
"width":375,"height":389,
"title":{"text":["(a)\u00a0\u00a0\u00a0\u00a0\u00a0\u00a0\u00a0\u00a0\u00a0\u00a0GRACE/KBR-COSMIC conjunctions:","\u200b\u00a0\u00a0\u00a0\u00a0\u00a0\u00a0\u00a0\u00a0\u00a0\u00a0\u00a0\u00a0\u00a0\u00a0\u00a0\u00a0\u00a0\u00a0\u00a02.5°GLat × 5°GLon, 15 min UT"],"anchor":"start","frame":"group","align":"left","dx":-70,"offset":2,"lineHeight":27},
"encoding":{
"x":{"field":"x","type":"quantitative","scale":{"domain":[3,7],"nice":false,"zero":false},"axis":{"title":"GRACE/KBR Nₑ, #/cm³","values":[3,3.30103,3.47712,3.60206,3.69897,3.77815,3.8451,3.90309,3.95424,4,4.30103,4.47712,4.60206,4.69897,4.77815,4.8451,4.90309,4.95424,5,5.30103,5.47712,5.60206,5.69897,5.77815,5.8451,5.90309,5.95424,6,6.30103,6.47712,6.60206,6.69897,6.77815,6.8451,6.90309,6.95424,7],"labelExpr":"datum.value % 1 == 0 ? '10' + ['³','⁴','⁵','⁶','⁷'][datum.value - 3] : ''","tickSize":{"condition":{"test":"datum.value % 1 == 0","value":-12},"value":-6},"labelPadding":17,"titlePadding":1}},
"y":{"field":"y","type":"quantitative","scale":{"domain":[3,7],"nice":false,"zero":false},"axis":{"title":"COSMIC Nₑ, #/cm³","values":[3,3.30103,3.47712,3.60206,3.69897,3.77815,3.8451,3.90309,3.95424,4,4.30103,4.47712,4.60206,4.69897,4.77815,4.8451,4.90309,4.95424,5,5.30103,5.47712,5.60206,5.69897,5.77815,5.8451,5.90309,5.95424,6,6.30103,6.47712,6.60206,6.69897,6.77815,6.8451,6.90309,6.95424,7],"labelExpr":"datum.value % 1 == 0 ? '10' + ['³','⁴','⁵','⁶','⁷'][datum.value - 3] : ''","tickSize":{"condition":{"test":"datum.value % 1 == 0","value":-14},"value":-7},"labelOffset":{"condition":{"test":"datum.value == 3","value":-4},"value":0},"labelPadding":14,"titlePadding":15}}
},
"layer":[
{"data":{"name":"scatter"},"mark":{"type":"circle","size":13,"opacity":1,"color":"#1f77b4"}},
{"data":{"name":"diag"},"mark":{"type":"line","color":"black","strokeWidth":1,"strokeDash":[4,2.5],"clip":true}},
{"data":{"name":"fitA"},"mark":{"type":"line","color":"#ff7f0e","strokeWidth":1.8,"clip":true}},
{"data":{"name":"notes"},"mark":{"type":"text","align":"left","baseline":"alphabetic","fontSize":18.5,"color":"black"},"encoding":{"text":{"field":"label"}}}
]
},
{
"width":375,"height":389,
"title":{"text":["(b)\u00a0\u00a0\u00a0\u00a0GRACE/KBR-COSMIC conjunctions:","\u200b\u00a0\u00a0\u00a0\u00a0\u00a0\u00a0\u00a0\u00a0\u00a0\u00a0\u00a0\u00a0\u00a0\u00a0\u00a0\u00a0\u00a0\u00a0\u00a0\u00a0\u00a0\u00a0\u00a0\u00a0\u00a0\u00a0\u00a0Normalized occurrences"],"anchor":"start","frame":"group","align":"left","dx":-44,"offset":2,"lineHeight":27},
"encoding":{
"x":{"field":"x","type":"quantitative","scale":{"domain":[3,7],"nice":false,"zero":false},"axis":{"title":"GRACE/KBR Nₑ, #/cm³","values":[3,3.30103,3.47712,3.60206,3.69897,3.77815,3.8451,3.90309,3.95424,4,4.30103,4.47712,4.60206,4.69897,4.77815,4.8451,4.90309,4.95424,5,5.30103,5.47712,5.60206,5.69897,5.77815,5.8451,5.90309,5.95424,6,6.30103,6.47712,6.60206,6.69897,6.77815,6.8451,6.90309,6.95424,7],"labelExpr":"datum.value % 1 == 0 ? '10' + ['³','⁴','⁵','⁶','⁷'][datum.value - 3] : ''","tickSize":{"condition":{"test":"datum.value % 1 == 0","value":-12},"value":-6},"labelPadding":17,"titlePadding":1}},
"y":{"field":"y","type":"quantitative","scale":{"domain":[3,7],"nice":false,"zero":false},"axis":{"title":"COSMIC Nₑ, #/cm³","values":[3,3.30103,3.47712,3.60206,3.69897,3.77815,3.8451,3.90309,3.95424,4,4.30103,4.47712,4.60206,4.69897,4.77815,4.8451,4.90309,4.95424,5,5.30103,5.47712,5.60206,5.69897,5.77815,5.8451,5.90309,5.95424,6,6.30103,6.47712,6.60206,6.69897,6.77815,6.8451,6.90309,6.95424,7],"labelExpr":"datum.value % 1 == 0 ? '10' + ['³','⁴','⁵','⁶','⁷'][datum.value - 3] : ''","tickSize":{"condition":{"test":"datum.value % 1 == 0","value":-14},"value":-7},"labelOffset":{"condition":{"test":"datum.value == 3","value":-4},"value":0},"labelPadding":14,"titlePadding":13}}
},
"layer":[
{"data":{"name":"cells"},"mark":{"type":"square","size":62,"opacity":1},"encoding":{"color":{"field":"v","type":"quantitative","scale":{"scheme":"turbo","domain":[0.0087,0.2207],"clamp":true},"legend":{"title":"Normalized occurrence","orient":"right","offset":39,"direction":"vertical","gradientLength":390,"gradientThickness":18,"values":[0.025,0.05,0.075,0.1,0.125,0.15,0.175,0.2],"format":".3f","labelFontSize":18,"labelOffset":8,"titleOrient":"right","titleAngle":270,"titleAnchor":"middle","titleFontSize":18,"titlePadding":12,"titleLimit":500,"gradientStrokeColor":"black","gradientStrokeWidth":0.8}}}},
{"data":{"name":"linesB"},"mark":{"type":"line","color":"black","strokeWidth":1,"clip":true},"encoding":{"strokeDash":{"field":"line","type":"nominal","scale":{"domain":["y = x","y = 1.00x -0.02"],"range":[[4,2.5],[1,0]]},"legend":{"title":null,"orient":"none","legendX":179,"legendY":314,"symbolType":"stroke","symbolSize":1600,"symbolStrokeWidth":1.8,"symbolStrokeColor":"black","labelFontSize":18,"labelOffset":14,"rowPadding":-2,"padding":0}}}},
{"data":{"name":"fitB"},"mark":{"type":"line","color":"black","strokeWidth":2,"clip":true},"encoding":{"strokeDash":{"field":"line","type":"nominal"}}}
]
}
],
"resolve":{"legend":{"color":"independent","strokeDash":"independent"}}
}
